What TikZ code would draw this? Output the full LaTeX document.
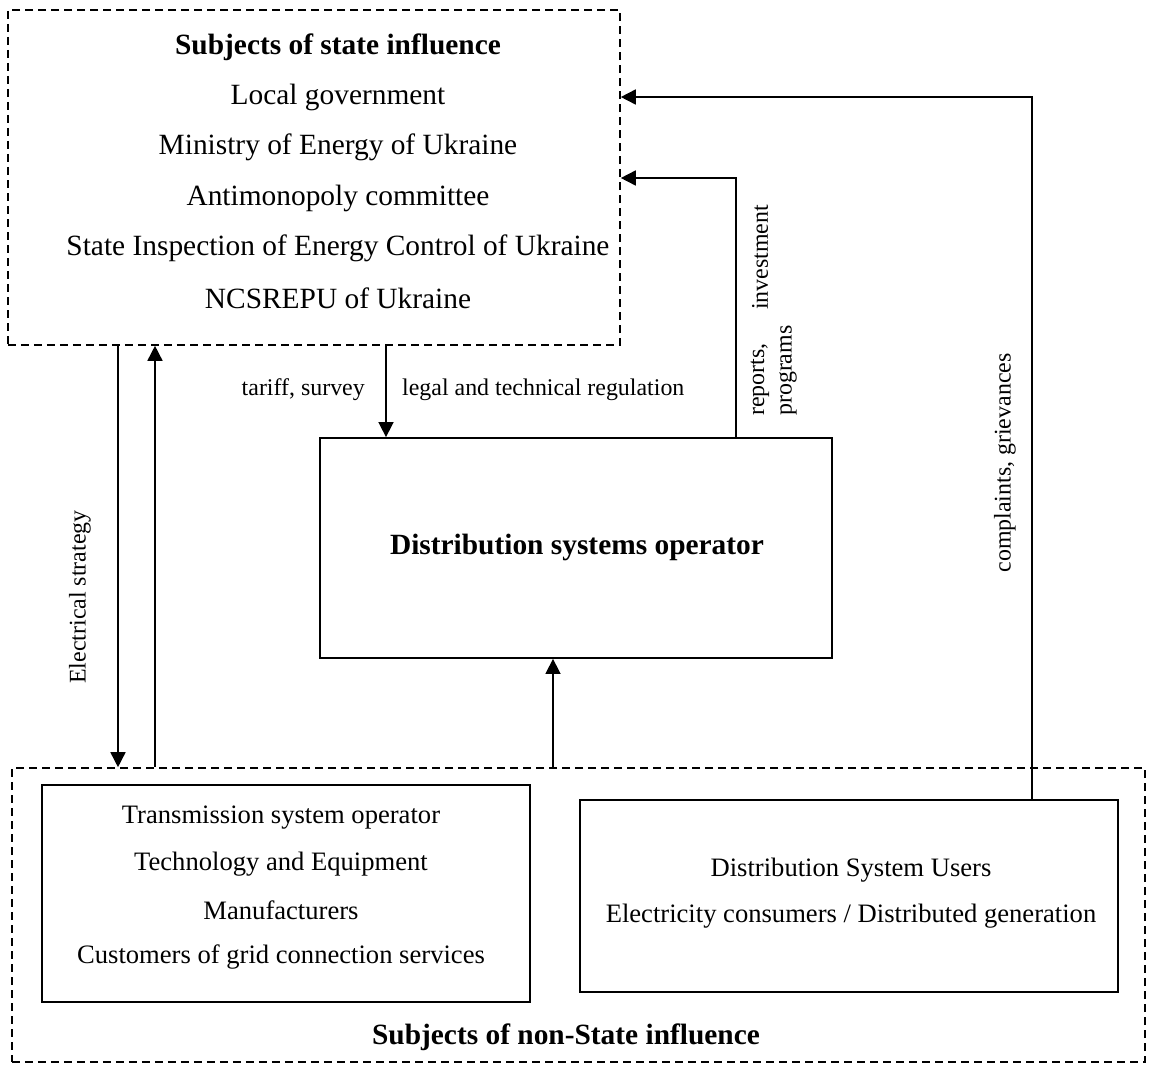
\documentclass[tikz,border=0pt]{standalone}
\usepackage{fontspec}
\setmainfont{Liberation Serif}
\usetikzlibrary{arrows.meta}
\tikzset{
  dbox/.style={draw, dashed, dash pattern=on 8bp off 5bp, line width=1.6bp, minimum width=#1},
  sbox/.style={draw, line width=1.8bp},
  big/.style={font=\fontsize{29.5}{34}\selectfont, inner sep=0pt},
  bigb/.style={font=\fontsize{29.5}{34}\selectfont\bfseries, inner sep=0pt},
  mid/.style={font=\fontsize{26.7}{30}\selectfont, inner sep=0pt},
  small/.style={font=\fontsize{24}{28}\selectfont, inner sep=0pt},
  conn/.style={line width=1.6bp, -{Triangle[length=15bp,width=15bp]}},
}
\begin{document}
\begin{tikzpicture}[x=1bp,y=-1bp]
\useasboundingbox (0,0) rectangle (1149,1066);
% boxes
\node[dbox=612bp, minimum height=335bp] (state) at (314,177.5) {};
\node[dbox=1133bp, minimum height=294bp] (nonstate) at (578.5,915) {};
\node[sbox, minimum width=512bp, minimum height=220bp] (dso) at (576,548) {};
\node[sbox, minimum width=488bp, minimum height=217bp] (left) at (286,893.5) {};
\node[sbox, minimum width=538bp, minimum height=192bp] (right) at (849,896) {};
% texts top
\node[bigb] (t0) at (338,47) {Subjects of state influence};
\node[big] (t1) at (338,97) {Local government};
\node[big] (t2) at (338,147) {Ministry of Energy of Ukraine};
\node[big] (t3) at (338,198) {Antimonopoly committee};
\node[big] (t4) at (338,248) {State Inspection of Energy Control of Ukraine};
\node[big] (t5) at (338,298) {NCSREPU of Ukraine};
% dso
\node[bigb] (dsot) at (577,547) {Distribution systems operator};
% left box
\node[mid] (l1) at (281,818) {Transmission system operator};
\node[mid] (l2) at (281,864) {Technology and Equipment};
\node[mid] (l3) at (281,910) {Manufacturers};
\node[mid] (l4) at (281,957) {Customers of grid connection services};
% right box
\node[mid] (r1) at (851,870) {Distribution System Users};
\node[mid] (r2) at (851,916) {Electricity consumers / Distributed generation};
\node[bigb] (nst) at (566,1037) {Subjects of non-State influence};
% labels
\node[small, anchor=east] (lab1) at (365,390) {tariff, survey};
\node[small, anchor=west] (lab2) at (402,390) {legal and technical regulation};
\node[small, rotate=90] (lab3) at (80,597) {Electrical strategy};
\node[small, rotate=90, anchor=west] (lab4) at (760,416) {reports,};
\node[small, rotate=90, anchor=west] (lab5) at (760,310) {investment};
\node[small, rotate=90, anchor=west] (lab6) at (788,416) {programs};
\node[small, rotate=90] (lab7) at (1005,463) {complaints, grievances};
% connector coordinates
\coordinate (xa) at (118,0);
\coordinate (xb) at (155,0);
\coordinate (xc) at (386,0);
\coordinate (xd) at (553,0);
\coordinate (xr) at (736,0);
\coordinate (xg) at (1032,0);
\coordinate (yr) at (0,178);
\coordinate (yg) at (0,97);
% connectors
\draw[conn] (state.south -| xa) -- (nonstate.north -| xa);
\draw[conn] (nonstate.north -| xb) -- (state.south -| xb);
\draw[conn] (state.south -| xc) -- (dso.north -| xc);
\draw[conn] (nonstate.north -| xd) -- (dso.south -| xd);
\draw[conn] (dso.north -| xr) |- (state.east |- yr);
\draw[conn] (right.north -| xg) |- (state.east |- yg);
\end{tikzpicture}
\end{document}
